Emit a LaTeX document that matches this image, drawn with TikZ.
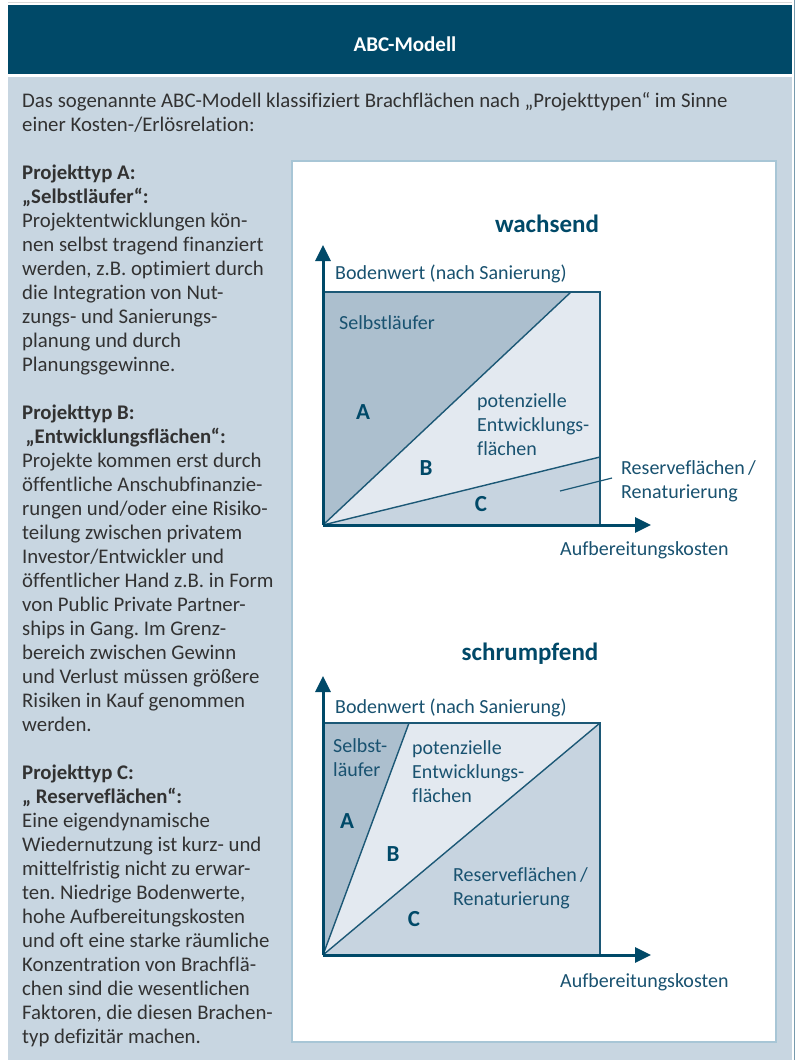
\documentclass[tikz,border=0pt]{standalone}
\usepackage{fontspec}
\setmainfont{Carlito}[Ligatures=NoCommon]
\usetikzlibrary{arrows.meta}
\frenchspacing

\definecolor{kopf}{RGB}{0,73,104}
\definecolor{grund}{RGB}{200,214,225}
\definecolor{rahmen}{RGB}{168,198,214}
\definecolor{fliess}{RGB}{50,50,50}
\definecolor{linie}{RGB}{28,88,118}
\definecolor{schrift}{RGB}{25,82,112}
\definecolor{flA}{RGB}{172,191,206}
\definecolor{flB}{RGB}{227,233,240}
\definecolor{flC}{RGB}{199,212,224}

\begin{document}
\begin{tikzpicture}[x=1pt, y=-1pt,
		fliesstext/.style={anchor=base west, inner sep=0, text=fliess, font=\fontsize{20.8}{24}\selectfont},
		beschr/.style={anchor=base west, inner sep=0, text=schrift, font=\fontsize{20}{24}\selectfont, align=left},
		buchst/.style={text=kopf, font=\fontsize{23}{24}\selectfont\bfseries},
		titel/.style={text=kopf, font=\fontsize{25}{28}\selectfont\bfseries},
		achse/.style={line width=3pt, draw=kopf, -{Triangle[length=16pt,width=15pt]}},
		kante/.style={line width=2pt, draw=linie},
		teiler/.style={line width=1.4pt, draw=linie}]
		\useasboundingbox (0,0) rectangle (798,1060);
		
		% Hintergrund
		\fill[grund] (8,77) rectangle (792,1060);
		\draw[black!15, line width=1pt] (8,2) -- (792,2);
		\draw[linie!60, line width=1pt] (794.5,0) -- (794.5,1060);
		\fill[kopf] (8,5) rectangle (792,74);
		\node[text=white, font=\fontsize{21}{24}\selectfont\bfseries] (kopf) at (405,44) {ABC-Modell};
		\fill[white, draw=rahmen, line width=1.5pt] (292,161) rectangle (776,1042);
		
		% Einleitung
		\node[fliesstext] (einl1) at (22,107) {Das sogenannte ABC-Modell klassifiziert Brachflächen nach „Projekttypen“ im Sinne};
		\node[fliesstext] (einl2) at (22,131) {einer Kosten-/Erlösrelation:};
		
		% Projekttypen links
		\foreach \zeile [count=\i] in {
			\textbf{Projekttyp A:}, \textbf{„Selbstläufer“:}, Projektentwicklungen kön-,
			nen selbst tragend finanziert, {werden, z.B. optimiert durch}, die Integration von Nut-,
			zungs- und Sanierungs-, planung und durch, Planungsgewinne., {},
			\textbf{Projekttyp B:}, \textbf{\,„Entwicklungsflächen“:}, Projekte kommen erst durch,
			öffentliche Anschubfinanzie-, rungen und/oder eine Risiko-, teilung zwischen privatem,
			Investor/Entwickler und, öffentlicher Hand z.B. in Form, von Public Private Partner-,
			ships in Gang. Im Grenz-, bereich zwischen Gewinn, und Verlust müssen größere,
			Risiken in Kauf genommen, werden., {},
			\textbf{Projekttyp C:}, \textbf{„\ Reserveflächen“:}, Eine eigendynamische,
			Wiedernutzung ist kurz- und, mittelfristig nicht zu erwar-, {ten. Niedrige Bodenwerte,},
			hohe Aufbereitungskosten, und oft eine starke räumliche, Konzentration von Brachflä-,
			chen sind die wesentlichen, {Faktoren, die diesen Brachen-}, typ defizitär machen.}{
			\node[fliesstext] (z\i) at (22,{179+24*(\i-1)}) {\zeile};}
		
		% Diagramm wachsend
		\coordinate (o1) at (323,525);
		\coordinate (lo1) at (323,292);
		\coordinate (ro1) at (600,292);
		\coordinate (ru1) at (600,525);
		\coordinate (ab1) at (571,292);
		\coordinate (bc1) at (600,457);
		\coordinate (ty1) at (323,245);
		\coordinate (tx1) at (651,525);
		\fill[flA] (o1) -- (lo1) -- (ab1) -- cycle;
		\fill[flB] (o1) -- (ab1) -- (ro1) -- (bc1) -- cycle;
		\fill[flC] (o1) -- (bc1) -- (ru1) -- cycle;
		\draw[teiler] (o1) -- (ab1);
		\draw[teiler] (o1) -- (bc1);
		\draw[kante] (lo1) -- (ro1) -- (ru1);
		\draw[achse] (o1) -- (ty1);
		\draw[achse] (o1) -- (tx1);
		\node[titel] (wachs) at (547,224) {wachsend};
		\node[beschr] (bw1) at (335,279) {Bodenwert (nach Sanierung)};
		\node[beschr] (sl1) at (339,329) {Selbstläufer};
		\node[buchst] (a1) at (363,412) {A};
		\node[buchst] (b1) at (426,468) {B};
		\node[buchst] (c1) at (481,504) {C};
		\node[beschr] (pe1) at (477,455) {potenzielle\\Entwicklungs-\\flächen};
		\node[beschr] (rf1) at (621,498) {Reserveflächen\,/\\Renaturierung};
		\node[beschr] (ak1) at (560,555) {Aufbereitungskosten};
		\coordinate (lf1) at (560,491);
		\coordinate (lt1) at (612,478);
		\draw[teiler, line width=1.2pt] (lf1) -- (lt1);
		
		% Diagramm schrumpfend
		\coordinate (o2) at (323,955);
		\coordinate (lo2) at (323,723);
		\coordinate (ro2) at (600,723);
		\coordinate (ru2) at (600,955);
		\coordinate (ab2) at (409,723);
		\coordinate (ty2) at (323,676);
		\coordinate (tx2) at (651,955);
		\fill[flA] (o2) -- (lo2) -- (ab2) -- cycle;
		\fill[flB] (o2) -- (ab2) -- (ro2) -- cycle;
		\fill[flC] (o2) -- (ro2) -- (ru2) -- cycle;
		\draw[teiler] (o2) -- (ab2);
		\draw[teiler] (o2) -- (ro2);
		\draw[kante] (lo2) -- (ro2) -- (ru2);
		\draw[achse] (o2) -- (ty2);
		\draw[achse] (o2) -- (tx2);
		\node[titel] (schrumpf) at (530,654) {schrumpfend};
		\node[beschr] (bw2) at (335,713) {Bodenwert (nach Sanierung)};
		\node[beschr] (sl2) at (333,776) {Selbst-\\läufer};
		\node[buchst] (a2) at (347,821) {A};
		\node[buchst] (b2) at (393,854) {B};
		\node[buchst] (c2) at (414,919) {C};
		\node[beschr] (pe2) at (412,802) {potenzielle\\Entwicklungs-\\flächen};
		\node[beschr] (rf2) at (453,905) {Reserveflächen\,/\\Renaturierung};
		\node[beschr] (ak2) at (560,987) {Aufbereitungskosten};
	\end{tikzpicture}
\end{document}
